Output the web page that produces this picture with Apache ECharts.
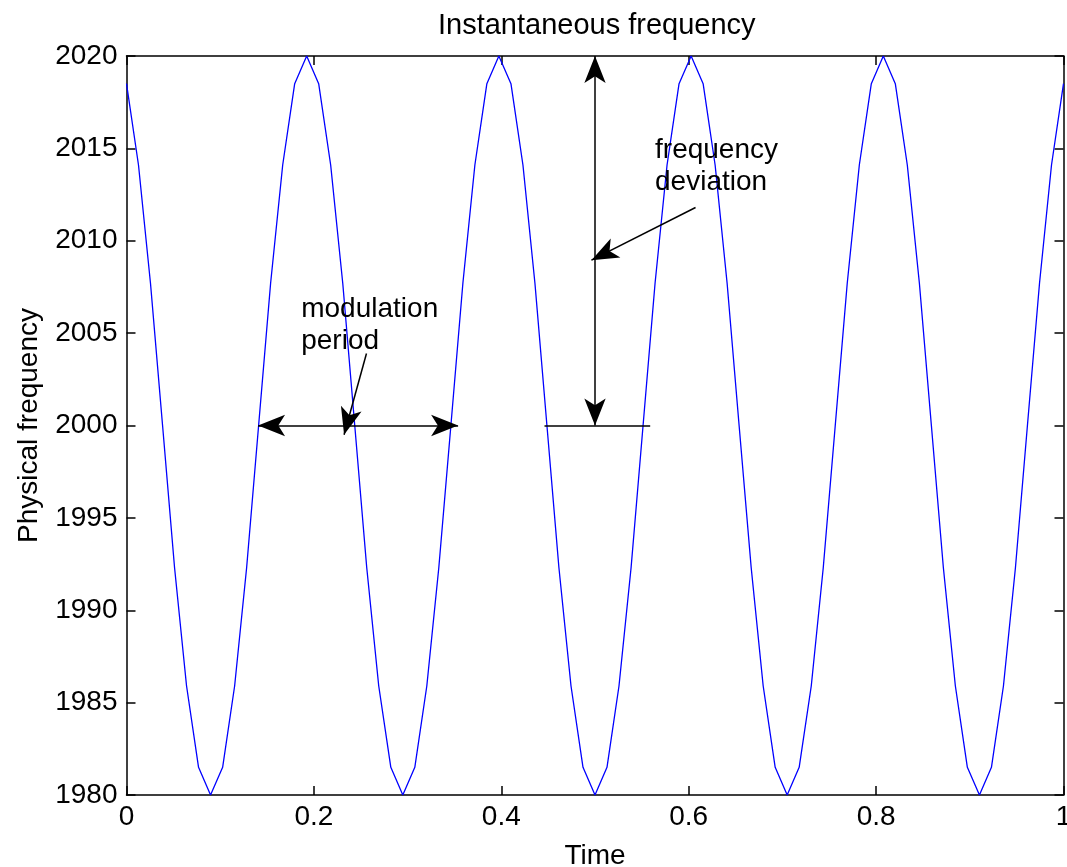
<!DOCTYPE html>
<html>
<head>
<meta charset="utf-8">
<script src="https://cdn.jsdelivr.net/npm/echarts@6/dist/echarts.min.js"></script>
<style>
html,body{margin:0;padding:0;background:#fff;}
#chart{width:1067px;height:867px;}
</style>
</head>
<body>
<div id="chart"></div>
<script>
// ---- data ----
const titleText = 'Instantaneous frequency';
const xAxisName = 'Time';
const yAxisName = 'Physical frequency';
const xTicks = [0, 0.2, 0.4, 0.6, 0.8, 1];
const yTicks = [1980, 1985, 1990, 1995, 2000, 2005, 2010, 2015, 2020];

const timeValues = [
  0, 0.0128, 0.0256, 0.0385, 0.0513, 0.0641, 0.0769, 0.0897, 0.1026, 0.1154,
  0.1282, 0.1410, 0.1538, 0.1667, 0.1795, 0.1923, 0.2051, 0.2179, 0.2308, 0.2436,
  0.2564, 0.2692, 0.2821, 0.2949, 0.3077, 0.3205, 0.3333, 0.3462, 0.3590, 0.3718,
  0.3846, 0.3974, 0.4103, 0.4231, 0.4359, 0.4487, 0.4615, 0.4744, 0.4872, 0.5,
  0.5128, 0.5256, 0.5385, 0.5513, 0.5641, 0.5769, 0.5897, 0.6026, 0.6154, 0.6282,
  0.6410, 0.6538, 0.6667, 0.6795, 0.6923, 0.7051, 0.7179, 0.7308, 0.7436, 0.7564,
  0.7692, 0.7821, 0.7949, 0.8077, 0.8205, 0.8333, 0.8462, 0.8590, 0.8718, 0.8846,
  0.8974, 0.9103, 0.9231, 0.9359, 0.9487, 0.9615, 0.9744, 0.9872, 1
];
const freqValues = [
  2018.5, 2014.1, 2007.7, 2000.0, 1992.3, 1985.9, 1981.5, 1980.0, 1981.5, 1985.9,
  1992.3, 2000.0, 2007.7, 2014.1, 2018.5, 2020.0, 2018.5, 2014.1, 2007.7, 2000.0,
  1992.3, 1985.9, 1981.5, 1980.0, 1981.5, 1985.9, 1992.3, 2000.0, 2007.7, 2014.1,
  2018.5, 2020.0, 2018.5, 2014.1, 2007.7, 2000.0, 1992.3, 1985.9, 1981.5, 1980.0,
  1981.5, 1985.9, 1992.3, 2000.0, 2007.7, 2014.1, 2018.5, 2020.0, 2018.5, 2014.1,
  2007.7, 2000.0, 1992.3, 1985.9, 1981.5, 1980.0, 1981.5, 1985.9, 1992.3, 2000.0,
  2007.7, 2014.1, 2018.5, 2020.0, 2018.5, 2014.1, 2007.7, 2000.0, 1992.3, 1985.9,
  1981.5, 1980.0, 1981.5, 1985.9, 1992.3, 2000.0, 2007.7, 2014.1, 2018.5
];

// annotations (data coordinates)
const noteTexts = ['modulation\nperiod', 'frequency\ndeviation'];
const noteAnchors = [[0.187, 2005.4], [0.5646, 2014.0]];
const arrowFrom = [[0.1404, 2000], [0.2561, 2003.9], [0.5, 2000], [0.6073, 2011.8], [0.4461, 2000]];
const arrowTo   = [[0.3539, 2000], [0.2322, 1999.5], [0.5, 2020], [0.4962, 2008.95], [0.5589, 2000]];
const arrowHeadFrom = [true, false, true, false, false];
const arrowHeadTo   = [true, true, true, true, false];

// ---- chart ----
const FONT = 'Liberation Sans, Arial, Helvetica, sans-serif';
const FS = 28;
const chart = echarts.init(document.getElementById('chart'), null, {renderer: 'canvas'});

const seriesData = timeValues.map((t, i) => [t, freqValues[i]]);
const HEAD = [16, 27];
const markLines = arrowFrom.map((f, i) => [
  {coord: f, symbol: arrowHeadFrom[i] ? 'arrow' : 'none', symbolSize: HEAD},
  {coord: arrowTo[i], symbol: arrowHeadTo[i] ? 'arrow' : 'none', symbolSize: HEAD}
]);
const markPoints = noteTexts.map((txt, i) => ({
  coord: noteAnchors[i],
  value: 0,
  symbol: 'circle',
  symbolSize: 1,
  itemStyle: {color: 'rgba(0,0,0,0)'},
  label: {
    show: true, formatter: txt, position: [0, 0], align: 'left', verticalAlign: 'middle',
    color: '#000', fontFamily: FONT, fontSize: FS, lineHeight: 32
  }
}));

const xMin = xTicks[0], xMax = xTicks[xTicks.length - 1], xInt = xTicks[1] - xTicks[0];
const yMin = yTicks[0], yMax = yTicks[yTicks.length - 1], yInt = yTicks[1] - yTicks[0];

const axisCommon = {
  axisLine: {show: true, onZero: false, lineStyle: {color: '#000', width: 1.5}},
  axisTick: {show: true, inside: true, length: 9, lineStyle: {color: '#000', width: 1.5}},
  splitLine: {show: false}
};

chart.setOption({
  animation: false,
  backgroundColor: '#fff',
  title: {
    text: titleText, left: 433, top: 6,
    textStyle: {fontFamily: FONT, fontSize: 29, fontWeight: 'normal', color: '#000'}
  },
  grid: {left: 126.5, right: 3.5, top: 56, bottom: 72, show: false, containLabel: false, outerBoundsMode: 'none'},
  xAxis: [
    Object.assign({
      type: 'value', min: xMin, max: xMax, interval: xInt, position: 'bottom',
      name: xAxisName, nameLocation: 'middle', nameGap: 47,
      nameTextStyle: {fontFamily: FONT, fontSize: FS, color: '#000'},
      axisLabel: {show: true, margin: 8, fontFamily: FONT, fontSize: FS, color: '#000',
        formatter: v => String(v)}
    }, axisCommon),
    Object.assign({
      type: 'value', min: xMin, max: xMax, interval: xInt, position: 'top',
      axisLabel: {show: false}
    }, axisCommon)
  ],
  yAxis: [
    Object.assign({
      type: 'value', min: yMin, max: yMax, interval: yInt, position: 'left',
      name: yAxisName, nameLocation: 'middle', nameGap: 83, nameRotate: 90,
      nameTextStyle: {fontFamily: FONT, fontSize: FS, color: '#000'},
      axisLabel: {show: true, margin: 9, fontFamily: FONT, fontSize: FS, color: '#000',
        formatter: v => String(v)}
    }, axisCommon),
    Object.assign({
      type: 'value', min: yMin, max: yMax, interval: yInt, position: 'right',
      axisLabel: {show: false}
    }, axisCommon)
  ],
  series: [{
    type: 'line',
    data: seriesData,
    showSymbol: false,
    symbol: 'none',
    lineStyle: {color: '#0000ff', width: 1.3},
    silent: true,
    z: 3,
    markLine: {
      silent: true,
      animation: false,
      label: {show: false},
      emphasis: {disabled: true},
      lineStyle: {color: '#000', width: 1.5, type: 'solid'},
      itemStyle: {color: '#000'},
      data: markLines
    },
    markPoint: {
      silent: true,
      animation: false,
      data: markPoints
    }
  }]
});
</script>
</body>
</html>
